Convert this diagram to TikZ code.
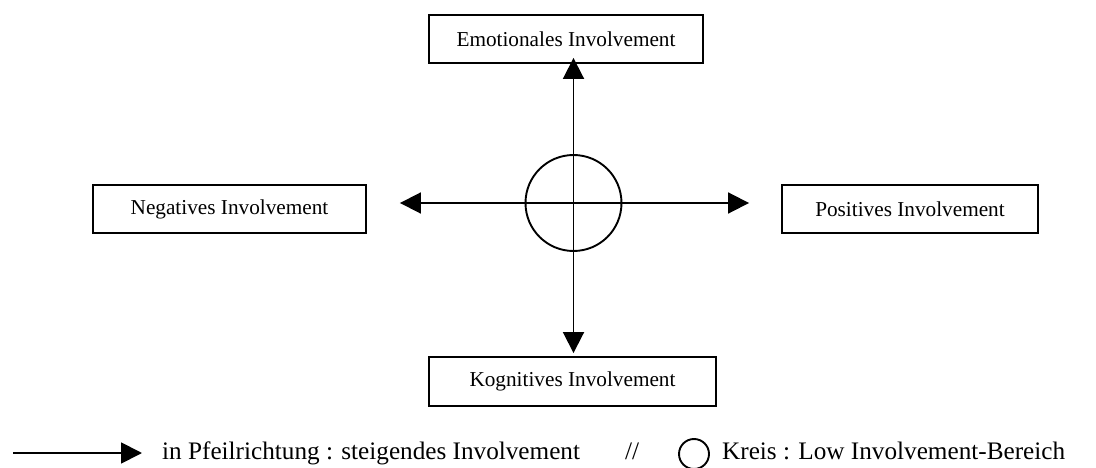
\documentclass[tikz,border=0pt]{standalone}
\usepackage{fontspec}
\setmainfont{Liberation Serif}
\usetikzlibrary{arrows.meta}
\begin{document}
\begin{tikzpicture}[x=1pt,y=-1pt,
  box/.style={draw,line width=1.9pt,inner sep=0pt,
    font=\fontsize{21.25}{25}\selectfont},
  arr/.style={line width=1.9pt,-{Triangle[length=21pt,width=21pt]}},
  legend/.style={inner sep=0pt,font=\fontsize{25.2}{30}\selectfont}]
  \useasboundingbox (0,0) rectangle (1096,468);

  % four involvement dimensions
  \node[box,minimum width=274pt,minimum height=48pt] (emo) at (566,39) {Emotionales Involvement};
  \node[box,minimum width=273pt,minimum height=48pt] (neg) at (229.5,209) {Negatives Involvement};
  \node[box,minimum width=256pt,minimum height=48pt] (pos) at (910,209) {Positives Involvement};
  \node[box,minimum width=287pt,minimum height=49pt] (kog) at (572.5,381.5) {Kognitives Involvement};

  % low-involvement region in the centre
  \node[draw,circle,line width=1.9pt,minimum size=96pt,inner sep=0pt] (low) at (573.5,203) {};

  % axes of increasing involvement
  \draw[arr,shorten >=-6pt] (low.center) -- (low.center |- emo.south);
  \draw[arr,shorten >=3pt] (low.center) -- (low.center |- kog.north);
  \draw[arr,shorten >=33pt] (low.center) -- (low.center -| neg.east);
  \draw[arr,shorten >=32pt] (low.center) -- (low.center -| pos.west);

  % legend
  \coordinate (la) at (13,453);
  \coordinate (lb) at (142,453);
  \draw[arr] (la) -- (lb);
  \node[legend,anchor=base west] (lt1) at (162,459) {in Pfeilrichtung : steigendes Involvement};
  \node[legend,anchor=base west] (lsep) at (625,459) {//};
  \draw[line width=1.9pt] (694,454) circle[radius=15pt];
  \node[legend,anchor=base west] (lt2) at (722,459) {Kreis : Low Involvement-Bereich};
\end{tikzpicture}
\end{document}
